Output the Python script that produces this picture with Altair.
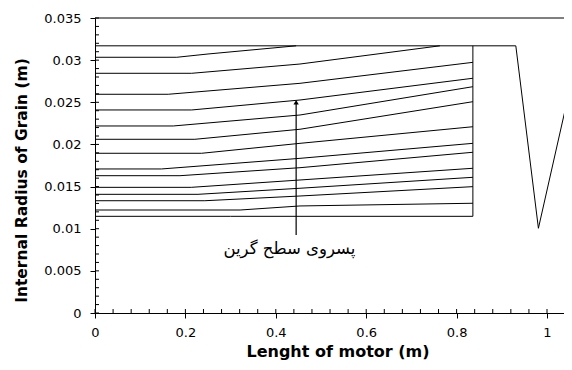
import altair as alt
import pandas as pd

# ---- axis ranges and ticks ----
X_MAX = 1.0376
Y_MAX = 0.035
X_TICKS = [0, 0.2, 0.4, 0.6, 0.8, 1.0]
Y_TICKS = [0, 0.005, 0.01, 0.015, 0.02, 0.025, 0.03, 0.035]
X_MINOR = [round(0.04 * i, 2) for i in range(26)]
Y_MINOR = [round(0.001 * i, 3) for i in range(36)]

# ---- burn-back contours ----
start_y = [0.03034, 0.02844, 0.02595, 0.02409, 0.02219, 0.02061, 0.01895,
           0.01709, 0.01629, 0.01491, 0.01408, 0.01332, 0.01222, 0.01147]
knee_x = [0.181, 0.214, 0.162, 0.214, 0.173, 0.221, 0.236,
          0.147, 0.188, 0.213, 0.228, 0.243, 0.321, 0.300]
mid_x = [0.250, 0.4535, 0.4535, 0.4535, 0.4535, 0.4535, 0.4535,
         0.4535, 0.4535, 0.4535, 0.4535, 0.4535, 0.4535, 0.4535]
mid_y = [0.03073, 0.02954, 0.02725, 0.02527, 0.02349, 0.02180, 0.02013,
         0.01835, 0.01724, 0.01578, 0.01480, 0.01388, 0.01270, 0.01147]
end_x = [0.445, 0.763, 0.836, 0.836, 0.836, 0.836, 0.836,
         0.836, 0.836, 0.836, 0.836, 0.836, 0.836, 0.836]
end_y = [0.0317, 0.0317, 0.02974, 0.02785, 0.02685, 0.02507, 0.02210,
         0.02013, 0.01907, 0.01717, 0.01610, 0.01499, 0.01302, 0.01147]

# grain case / outer contour
outer_x = [0.0, 0.931, 0.981, 1.054]
outer_y = [0.0317, 0.0317, 0.01005, 0.0274]
case_x = [0.836, 0.836]
case_y = [0.01147, 0.0317]

# annotation
arrow_x = [0.445]
arrow_y = [0.00925]
arrow_y2 = [0.0250]
label_text = ["پسروی سطح گرین"]
label_x = [0.43]
label_y = [0.0076]

rows = []
for i in range(len(start_y)):
    pts = [(0.0, start_y[i]), (knee_x[i], start_y[i]),
           (mid_x[i], mid_y[i]), (end_x[i], end_y[i])]
    for j, (xx, yy) in enumerate(pts):
        rows.append({"x": xx, "y": yy, "s": f"c{i}", "o": j})
for j, (xx, yy) in enumerate(zip(outer_x, outer_y)):
    rows.append({"x": xx, "y": yy, "s": "outer", "o": j})
for j, (xx, yy) in enumerate(zip(case_x, case_y)):
    rows.append({"x": xx, "y": yy, "s": "case", "o": j})
lines_df = pd.DataFrame(rows)

arrow_df = pd.DataFrame({"x": arrow_x, "y": arrow_y, "y2": arrow_y2})
head_df = pd.DataFrame({"x": arrow_x, "y": arrow_y2})
label_df = pd.DataFrame({"x": label_x, "y": label_y, "t": label_text})
xminor_df = pd.DataFrame({"x": X_MINOR})
yminor_df = pd.DataFrame({"y": Y_MINOR})

W, H = 469, 295
xscale = alt.Scale(domain=[0, X_MAX], nice=False, zero=False)
yscale = alt.Scale(domain=[0, Y_MAX], nice=False, zero=False)

common_axis = dict(grid=False, domainColor="black", tickColor="black",
                   labelColor="black", titleColor="black", labelFlush=False,
                   labelFont="DejaVu Sans", labelFontSize=13,
                   titleFont="DejaVu Sans", titleFontWeight="bold")

x_axis = alt.Axis(orient="bottom", values=X_TICKS, format="~g", tickSize=5,
                  labelPadding=8, title="Lenght of motor (m)",
                  titleFontSize=16, titleX=242.5, titleY=43,
                  titleBaseline="alphabetic", titleAlign="center",
                  **common_axis)
y_axis = alt.Axis(orient="left", values=Y_TICKS, format="~g", tickSize=5,
                  labelPadding=9, title="Internal Radius of Grain (m)",
                  titleFontSize=15.5, titleX=-73.5, titleY=162,
                  titleBaseline="middle", titleAlign="center", titleAngle=270,
                  **common_axis)

lines = alt.Chart(lines_df).mark_line(color="black", strokeWidth=1, clip=True).encode(
    x=alt.X("x:Q", scale=xscale, axis=x_axis),
    y=alt.Y("y:Q", scale=yscale, axis=y_axis),
    detail="s:N",
    order="o:Q",
)

top_border = alt.Chart(head_df).mark_rule(color="black", strokeWidth=1).encode(
    y=alt.Y(datum=Y_MAX, scale=yscale),
)

# inner (minor) tick marks along the axes
x_inner = alt.Chart(xminor_df).mark_rule(color="black", strokeWidth=1).encode(
    x=alt.X("x:Q", scale=xscale),
    y=alt.value(H),
    y2=alt.value(H - 4),
)
y_inner = alt.Chart(yminor_df).mark_rule(color="black", strokeWidth=1).encode(
    y=alt.Y("y:Q", scale=yscale),
    x=alt.value(0),
    x2=alt.value(4),
)

arrow = alt.Chart(arrow_df).mark_rule(color="black", strokeWidth=1.2).encode(
    x=alt.X("x:Q", scale=xscale),
    y=alt.Y("y:Q", scale=yscale),
    y2="y2:Q",
)

head = alt.Chart(head_df).mark_point(shape="triangle-up", filled=True, size=28,
                                     color="black", opacity=1).encode(
    x=alt.X("x:Q", scale=xscale),
    y=alt.Y("y:Q", scale=yscale),
)

label = alt.Chart(label_df).mark_text(font="DejaVu Sans", fontSize=16.5,
                                      color="black", align="center",
                                      baseline="middle").encode(
    x=alt.X("x:Q", scale=xscale),
    y=alt.Y("y:Q", scale=yscale),
    text="t:N",
)

chart = alt.layer(lines, top_border, x_inner, y_inner, arrow, head, label).properties(
    width=W, height=H,
    autosize=alt.AutoSizeParams(type="none"),
    padding={"left": 87, "top": 10, "right": 0, "bottom": 49},
    background="white",
).configure_view(stroke=None)

chart.save("out.html", embed_options={"renderer": "svg", "actions": False})
